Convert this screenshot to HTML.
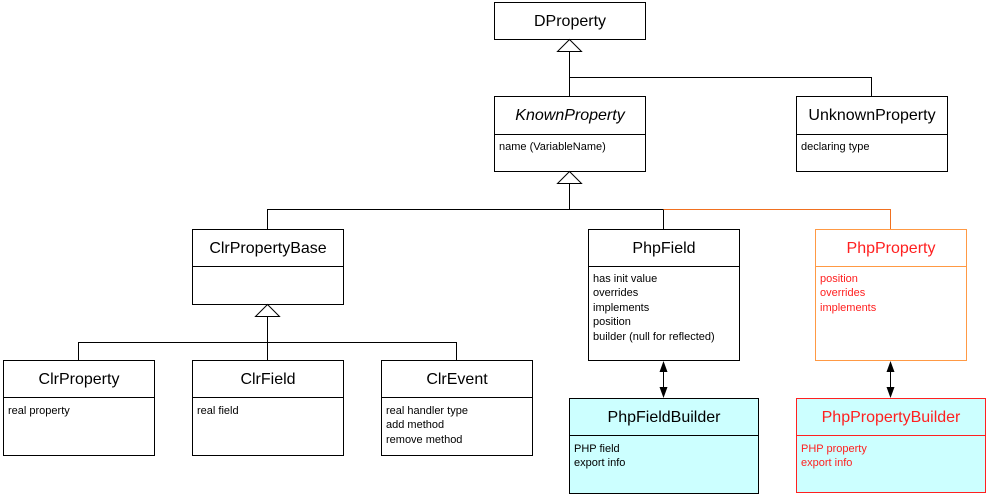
<!DOCTYPE html>
<html><head><meta charset="utf-8"><style>
body{margin:0;background:#fff;}
svg{display:block;font-family:"Liberation Sans",Arial,sans-serif;}
.t{font-size:16px;text-anchor:middle;}
.a{font-size:11px;}
</style></head><body>
<svg width="986" height="495" viewBox="0 0 986 495">
<g fill="none" stroke="#000" stroke-width="1">
<!-- DProperty -->
<rect x="494.5" y="2.5" width="151" height="37" fill="#fff"/>
<!-- KnownProperty -->
<rect x="494.5" y="96.5" width="151" height="75" fill="#fff"/><line x1="494" y1="134.5" x2="646" y2="134.5"/>
<!-- UnknownProperty -->
<rect x="796.5" y="96.5" width="151" height="75" fill="#fff"/><line x1="796" y1="134.5" x2="948" y2="134.5"/>
<!-- connectors top -->
<polygon points="569.5,39.5 557.5,51.5 581.5,51.5" fill="#fff"/>
<polyline points="569.5,51.5 569.5,96"/>
<polyline points="569.5,77.5 871.5,77.5 871.5,96"/>
<polygon points="569.5,171.5 557.5,183.5 581.5,183.5" fill="#fff"/>
<polyline points="569.5,183.5 569.5,209.5"/>
<polyline points="267.5,229 267.5,209.5 663.5,209.5 663.5,229"/>
<polyline points="663.5,209.5 890.5,209.5 890.5,229" stroke="#f07020"/>
<!-- ClrPropertyBase -->
<rect x="192.5" y="229.5" width="151" height="75" fill="#fff"/><line x1="192" y1="266.5" x2="344" y2="266.5"/>
<!-- PhpField -->
<rect x="588.5" y="229.5" width="151" height="131" fill="#fff"/><line x1="588" y1="266.5" x2="740" y2="266.5"/>
<!-- PhpProperty -->
<rect x="815.5" y="229.5" width="151" height="131" fill="#fff" stroke="#ff9944"/><line x1="815" y1="266.5" x2="967" y2="266.5" stroke="#ff9944"/>
<polygon points="267.5,304.5 255.5,316.5 279.5,316.5" fill="#fff"/>
<polyline points="267.5,316.5 267.5,360"/>
<polyline points="78.5,360 78.5,342.5 456.5,342.5 456.5,360"/>
<!-- Clr children -->
<rect x="3.5" y="360.5" width="151" height="95" fill="#fff"/><line x1="3" y1="397.5" x2="155" y2="397.5"/>
<rect x="192.5" y="360.5" width="151" height="95" fill="#fff"/><line x1="192" y1="397.5" x2="344" y2="397.5"/>
<rect x="381.5" y="360.5" width="151" height="95" fill="#fff"/><line x1="381" y1="397.5" x2="533" y2="397.5"/>
<!-- Builders -->
<rect x="569.5" y="398.5" width="189" height="95" fill="#ccffff"/><line x1="569" y1="435.5" x2="759" y2="435.5"/>
<rect x="796.5" y="398.5" width="189" height="94" fill="#ccffff" stroke="#ff2020"/><line x1="796" y1="435.5" x2="986" y2="435.5" stroke="#ff2020"/>
<line x1="663.5" y1="368" x2="663.5" y2="390"/>
<line x1="890.5" y1="368" x2="890.5" y2="390"/>
</g>
<g fill="#000">
<polygon points="663.5,361 659.5,372 667.5,372"/><polygon points="663.5,398 659.5,387 667.5,387"/>
<polygon points="890.5,361 886.5,372 894.5,372"/><polygon points="890.5,398 886.5,387 894.5,387"/>
</g>
<g fill="#000">
<text class="t" x="570" y="26">DProperty</text>
<text class="t" x="570" y="120" font-style="italic">KnownProperty</text>
<text class="a" x="499" y="150">name (VariableName)</text>
<text class="t" x="872" y="120">UnknownProperty</text>
<text class="a" x="801" y="150">declaring type</text>
<text class="t" x="268" y="253">ClrPropertyBase</text>
<text class="t" x="664" y="253">PhpField</text>
<text class="a" x="593" y="282">has init value</text>
<text class="a" x="593" y="296">overrides</text>
<text class="a" x="593" y="311">implements</text>
<text class="a" x="593" y="325">position</text>
<text class="a" x="593" y="340">builder (null for reflected)</text>
<text class="t" x="79" y="384">ClrProperty</text>
<text class="a" x="8" y="414">real property</text>
<text class="t" x="268" y="384">ClrField</text>
<text class="a" x="197" y="414">real field</text>
<text class="t" x="457" y="384">ClrEvent</text>
<text class="a" x="386" y="414">real handler type</text>
<text class="a" x="386" y="428">add method</text>
<text class="a" x="386" y="443">remove method</text>
<text class="t" x="664" y="422">PhpFieldBuilder</text>
<text class="a" x="574" y="452">PHP field</text>
<text class="a" x="574" y="466">export info</text>
</g>
<g fill="#ff2020">
<text class="t" x="891" y="253">PhpProperty</text>
<text class="a" x="820" y="282">position</text>
<text class="a" x="820" y="296">overrides</text>
<text class="a" x="820" y="311">implements</text>
<text class="t" x="891" y="422">PhpPropertyBuilder</text>
<text class="a" x="801" y="452">PHP property</text>
<text class="a" x="801" y="466">export info</text>
</g>
</svg>
</body></html>
